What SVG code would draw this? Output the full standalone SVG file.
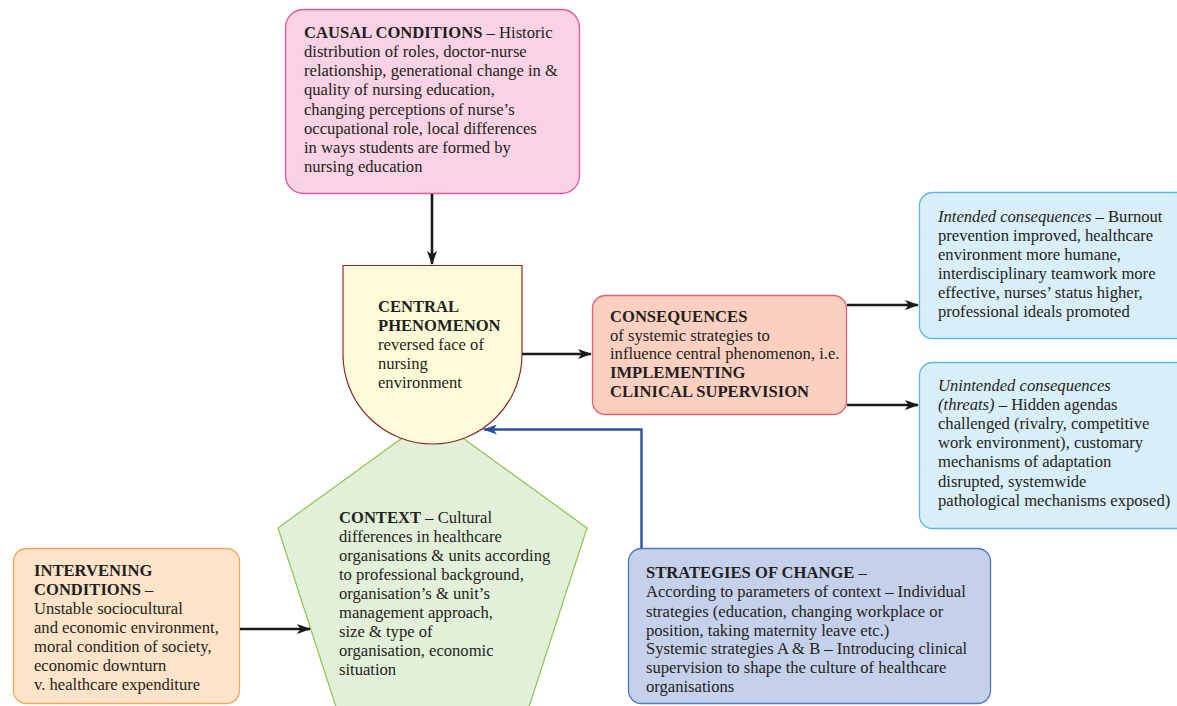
<svg xmlns="http://www.w3.org/2000/svg" width="1177" height="706" viewBox="0 0 1177 706">
<defs>
<style>
text{font-size:16.6px;fill:#231f20}
.b{font-weight:bold}
.i{font-style:italic}
.conn{fill:none;stroke:#1a1a1a;stroke-width:2.6}
.blue{fill:none;stroke:#2d4f9e;stroke-width:2.4}
</style>
<marker id="ah" viewBox="0 0 14 10" refX="13" refY="5" markerWidth="14" markerHeight="10" markerUnits="userSpaceOnUse" orient="auto">
<path d="M0,0 L14,5 L0,10 L3.5,5 Z" fill="#1a1a1a"/>
</marker>
<marker id="ahb" viewBox="0 0 14 10" refX="13" refY="5" markerWidth="14" markerHeight="10" markerUnits="userSpaceOnUse" orient="auto">
<path d="M0,0 L14,5 L0,10 L3.5,5 Z" fill="#2d4f9e"/>
</marker>
</defs>
<rect width="1177" height="706" fill="#ffffff"/>
<g font-family="'Liberation Serif', 'Times New Roman', 'DejaVu Serif', serif">

<g id="context">
<polygon points="432.5,416 587,528 528,710 337,710 278,528" fill="#e2efd9" stroke="#8cc44e" stroke-width="1.2"/>
<text x="339" y="523"><tspan class="b">CONTEXT</tspan> – Cultural</text>
<text x="339" y="542">differences in healthcare</text>
<text x="339" y="561">organisations &amp; units according</text>
<text x="339" y="580">to professional background,</text>
<text x="339" y="599">organisation’s &amp; unit’s</text>
<text x="339" y="618">management approach,</text>
<text x="339" y="637">size &amp; type of</text>
<text x="339" y="656">organisation, economic</text>
<text x="339" y="675">situation</text>
</g>

<g id="causal">
<rect x="285.5" y="9.5" width="294" height="184" rx="18" fill="#f9d3e3" stroke="#e0589a" stroke-width="1.3"/>
<text x="304" y="38"><tspan class="b">CAUSAL CONDITIONS</tspan> – Historic</text>
<text x="304" y="57">distribution of roles, doctor-nurse</text>
<text x="304" y="76">relationship, generational change in &amp;</text>
<text x="304" y="95">quality of nursing education,</text>
<text x="304" y="115">changing perceptions of nurse’s</text>
<text x="304" y="134">occupational role, local differences</text>
<text x="304" y="153">in ways students are formed by</text>
<text x="304" y="172">nursing education</text>
</g>

<g id="central">
<path d="M343,265.5 H522 V354.5 A89.5,89.5 0 0 1 343,354.5 Z" fill="#fefcd8" stroke="#8b2a2a" stroke-width="1.2"/>
<text x="378" y="312" class="b">CENTRAL</text>
<text x="378" y="331" class="b">PHENOMENON</text>
<text x="378" y="350">reversed face of</text>
<text x="378" y="369">nursing</text>
<text x="378" y="388">environment</text>
</g>

<g id="consequences">
<rect x="592.5" y="295.5" width="254" height="119" rx="13" fill="#fbd0c0" stroke="#ea5f6e" stroke-width="1.3"/>
<text x="610" y="322" class="b">CONSEQUENCES</text>
<text x="610" y="341">of systemic strategies to</text>
<text x="610" y="359">influence central phenomenon, i.e.</text>
<text x="610" y="378" class="b">IMPLEMENTING</text>
<text x="610" y="397" class="b">CLINICAL SUPERVISION</text>
</g>

<g id="intended">
<rect x="919.5" y="192.5" width="270" height="146" rx="13" fill="#d8eef9" stroke="#5bb8e6" stroke-width="1.3"/>
<text x="938" y="222"><tspan class="i">Intended consequences</tspan> – Burnout</text>
<text x="938" y="241">prevention improved, healthcare</text>
<text x="938" y="260">environment more humane,</text>
<text x="938" y="279">interdisciplinary teamwork more</text>
<text x="938" y="298">effective, nurses’ status higher,</text>
<text x="938" y="317">professional ideals promoted</text>
</g>

<g id="unintended">
<rect x="919.5" y="362.5" width="270" height="166" rx="13" fill="#d8eef9" stroke="#5bb8e6" stroke-width="1.3"/>
<text x="938" y="391" class="i">Unintended consequences</text>
<text x="938" y="410"><tspan class="i">(threats)</tspan> – Hidden agendas</text>
<text x="938" y="429">challenged (rivalry, competitive</text>
<text x="938" y="448">work environment), customary</text>
<text x="938" y="467">mechanisms of adaptation</text>
<text x="938" y="487">disrupted, systemwide</text>
<text x="938" y="506">pathological mechanisms exposed)</text>
</g>

<g id="intervening">
<rect x="13.5" y="548.5" width="226" height="155" rx="13" fill="#fde3c8" stroke="#f5a85a" stroke-width="1.3"/>
<text x="34" y="576" class="b">INTERVENING</text>
<text x="34" y="595"><tspan class="b">CONDITIONS</tspan> –</text>
<text x="34" y="614">Unstable sociocultural</text>
<text x="34" y="633">and economic environment,</text>
<text x="34" y="652">moral condition of society,</text>
<text x="34" y="671">economic downturn</text>
<text x="34" y="690">v. healthcare expenditure</text>
</g>

<g id="strategies">
<rect x="628.5" y="548.5" width="362" height="155" rx="13" fill="#c5d1ea" stroke="#4a78c0" stroke-width="1.3"/>
<text x="646" y="578"><tspan class="b">STRATEGIES OF CHANGE</tspan> –</text>
<text x="646" y="597">According to parameters of context – Individual</text>
<text x="646" y="617">strategies (education, changing workplace or</text>
<text x="646" y="636">position, taking maternity leave etc.)</text>
<text x="646" y="654">Systemic strategies A &amp; B – Introducing clinical</text>
<text x="646" y="673">supervision to shape the culture of healthcare</text>
<text x="646" y="692">organisations</text>
</g>
</g>

<g id="connectors">
<line class="conn" x1="432" y1="194" x2="432" y2="264" marker-end="url(#ah)"/>
<line class="conn" x1="522" y1="354" x2="591" y2="354" marker-end="url(#ah)"/>
<line class="conn" x1="847" y1="305" x2="918" y2="305" marker-end="url(#ah)"/>
<line class="conn" x1="847" y1="405" x2="918" y2="405" marker-end="url(#ah)"/>
<line class="conn" x1="240" y1="629" x2="310" y2="629" marker-end="url(#ah)"/>
<polyline class="blue" points="641.5,548 641.5,429.5 484,429.5" marker-end="url(#ahb)"/>
</g>
</svg>
